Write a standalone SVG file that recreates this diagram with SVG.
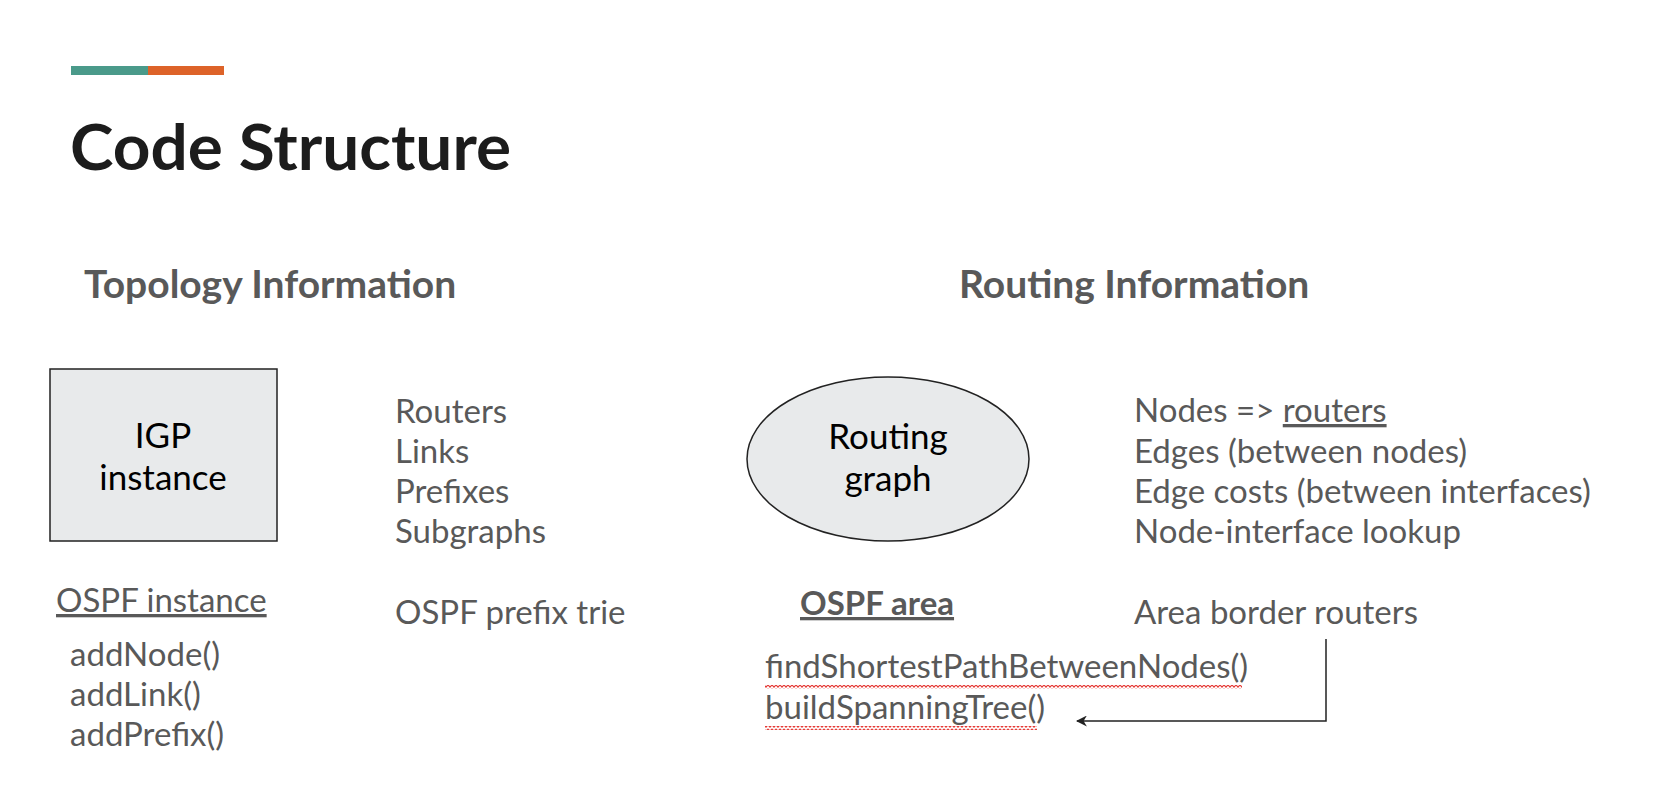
<svg xmlns="http://www.w3.org/2000/svg" width="1660" height="808" viewBox="0 0 1660 808">
<defs>
<style>
.t{font-family:Lato,"Noto Sans","DejaVu Sans",sans-serif;fill:#595959;font-size:33px}
.h{font-family:Lato,"Noto Sans",sans-serif;fill:#595959;font-size:39px;font-weight:bold}
.n{font-family:Lato,"Noto Sans",sans-serif;fill:#000;font-size:35px;text-anchor:middle}
.shape{fill:#e8eaeb;stroke:#222;stroke-width:1.5}
.conn{fill:none;stroke:#222;stroke-width:1.5}
</style>
<marker id="ah" viewBox="0 0 10 10" refX="9" refY="5" markerWidth="11" markerHeight="11" markerUnits="userSpaceOnUse" orient="auto">
<path d="M0,0 L10,5 L0,10 L3,5 Z" fill="#222"/>
</marker>
<pattern id="sq" width="4" height="4" patternUnits="userSpaceOnUse">
<polyline points="0,0.8 2,3.2 4,0.8" fill="none" stroke="#e53935" stroke-width="1.1"/>
</pattern>
</defs>
<rect width="1660" height="808" fill="#fff"/>
<g id="accent">
<rect x="71" y="66" width="77" height="9" fill="#4a9a8a"/>
<rect x="148" y="66" width="76" height="9" fill="#dd6329"/>
</g>
<text id="title" x="70" y="170" font-family="Lato,'Noto Sans',sans-serif" font-weight="bold" font-size="64" fill="#1c1c1c" textLength="441" lengthAdjust="spacingAndGlyphs">Code Structure</text>
<text class="h" x="84" y="298">Topology Information</text>
<text class="h" x="959" y="298">Routing Information</text>
<g id="igp">
<rect class="shape" x="50" y="369" width="227" height="172"/>
<text class="n" x="163" y="448">IGP</text>
<text class="n" x="163" y="490">instance</text>
</g>
<g id="topo-list">
<text class="t" x="395" y="423">Routers</text>
<text class="t" x="395" y="463">Links</text>
<text class="t" x="395" y="503">Prefixes</text>
<text class="t" x="395" y="543">Subgraphs</text>
<text class="t" x="395" y="624">OSPF prefix trie</text>
</g>
<g id="ospf-instance">
<text class="t" x="56" y="612" text-decoration="underline">OSPF instance</text>
<text class="t" x="70" y="666">addNode()</text>
<text class="t" x="70" y="706">addLink()</text>
<text class="t" x="70" y="746">addPrefix()</text>
</g>
<g id="routing-graph">
<ellipse class="shape" cx="888" cy="459" rx="141" ry="82"/>
<text class="n" x="888" y="449">Routing</text>
<text class="n" x="888" y="491">graph</text>
</g>
<g id="routing-list">
<text class="t" x="1134" y="422">Nodes =&gt; <tspan text-decoration="underline">routers</tspan></text>
<text class="t" x="1134" y="463">Edges (between nodes)</text>
<text class="t" x="1134" y="503">Edge costs (between interfaces)</text>
<text class="t" x="1134" y="543">Node-interface lookup</text>
<text class="t" x="1134" y="624">Area border routers</text>
</g>
<g id="ospf-area">
<text class="t" x="800" y="615" font-weight="bold" text-decoration="underline">OSPF area</text>
<text class="t" x="765" y="678">findShortestPathBetweenNodes()</text>
<rect x="765" y="685" width="477" height="4" fill="url(#sq)"/>
<text class="t" x="765" y="719">buildSpanningTree()</text>
<rect x="765" y="726" width="272" height="4" fill="url(#sq)"/>
</g>
<g id="connectors">
<path class="conn" d="M1326,639 L1326,721 L1077,721" marker-end="url(#ah)"/>
</g>
</svg>
